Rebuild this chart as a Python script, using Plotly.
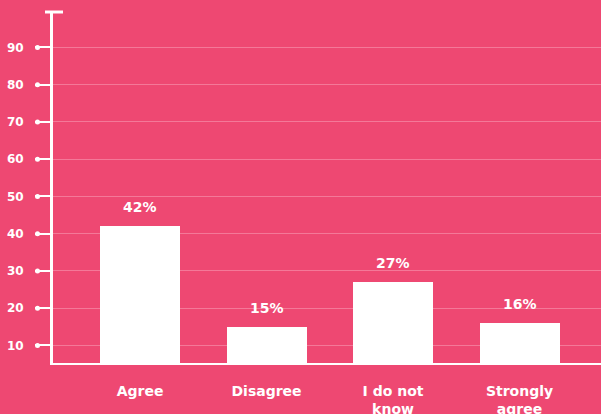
import plotly.graph_objects as go

# Survey responses
categories = ["Agree", "Disagree", "I do not<br>know", "Strongly<br>agree"]
values = [42, 15, 27, 16]
y_ticks = [10, 20, 30, 40, 50, 60, 70, 80, 90]

BG = "#EE4872"
GRID = "#F47898"
WHITE = "#FFFFFF"
FONT = "DejaVu Sans"

x_pos = list(range(len(categories)))

fig = go.Figure()
fig.add_trace(go.Bar(
    x=x_pos, y=values, width=0.632,
    marker=dict(color=WHITE, line=dict(width=0)),
    hoverinfo="skip",
))

# Percentage labels above bars
for xi, v in zip(x_pos, values):
    fig.add_annotation(
        x=xi, y=v, text=f"<b>{v}%</b>", showarrow=False,
        yshift=19, font=dict(family=FONT, size=14, color=WHITE),
    )

shapes = []
# Dots at the outer end of each y tick
for t in y_ticks:
    shapes.append(dict(
        type="circle", xref="paper", yref="y",
        xsizemode="pixel", ysizemode="pixel",
        xanchor=0, yanchor=t,
        x0=-18, x1=-13, y0=-2.5, y1=2.5,
        fillcolor=WHITE, line=dict(width=0), layer="above",
    ))
# Cap at the top of the y axis line
shapes.append(dict(
    type="line", xref="paper", yref="paper",
    xsizemode="pixel", xanchor=0, x0=-8, x1=10,
    y0=1, y1=1, line=dict(color=WHITE, width=3), layer="above",
))

fig.update_layout(
    width=601, height=414,
    margin=dict(l=53, r=0, t=12, b=51, autoexpand=False),
    paper_bgcolor=BG, plot_bgcolor=BG,
    showlegend=False,
    bargap=0,
    shapes=shapes,
    xaxis=dict(
        range=[-0.688, 3.644],
        tickmode="array", tickvals=x_pos,
        ticktext=[f"<b>{c}</b>" for c in categories],
        tickfont=dict(family=FONT, size=14, color=WHITE),
        showgrid=False, zeroline=False,
        showline=True, linecolor=WHITE, linewidth=2,
        ticks="", ticklabelstandoff=14, automargin=False,
    ),
    yaxis=dict(
        range=[5.3, 99.5],
        tickmode="array", tickvals=y_ticks,
        ticktext=[f"<b>{t}</b>" for t in y_ticks],
        tickfont=dict(family=FONT, size=12, color=WHITE),
        showgrid=True, gridcolor=GRID, gridwidth=1,
        zeroline=False,
        showline=True, linecolor=WHITE, linewidth=3,
        ticks="outside", ticklen=15, tickwidth=2, tickcolor=WHITE,
        ticklabelstandoff=9, automargin=False,
    ),
)

fig.write_html("out.html")
